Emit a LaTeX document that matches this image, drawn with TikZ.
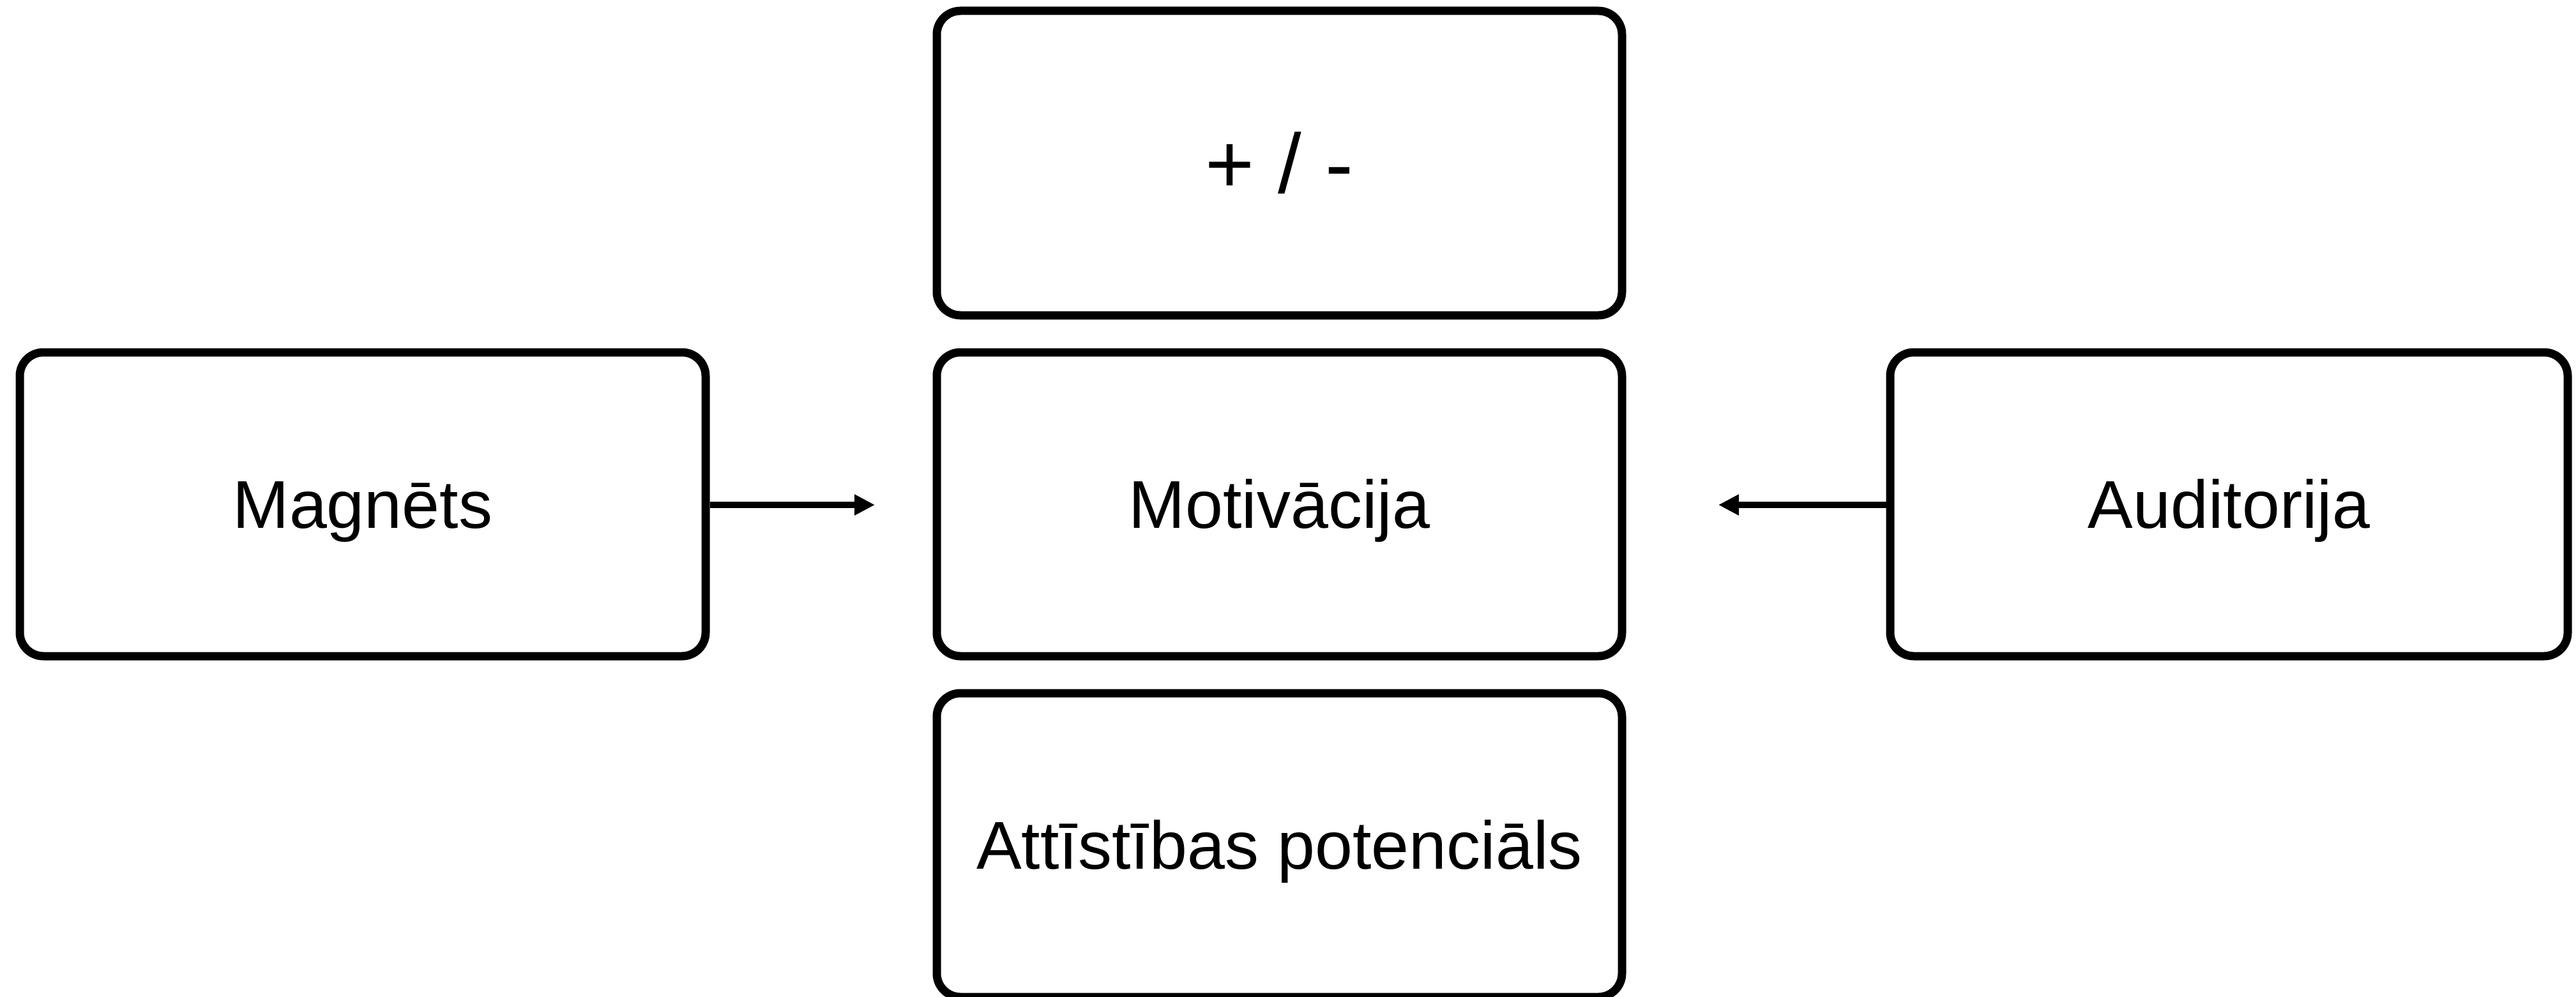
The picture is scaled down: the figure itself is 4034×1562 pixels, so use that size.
\documentclass[tikz,border=0pt]{standalone}
\usepackage{fontspec}
\setmainfont{Liberation Sans}
\usetikzlibrary{arrows.meta}
\begin{document}
\begin{tikzpicture}[x=0.25pt,y=-0.25pt,
  box/.style={draw, line width=3.25pt, rounded corners=9.25pt, inner sep=0pt,
    minimum width=268.25pt, minimum height=119pt,
    text height=18.97pt, text depth=0pt, font=\fontsize{26.5}{31}\selectfont},
  conn/.style={line width=2.5pt, -{Triangle[length=8pt,width=7.75pt]}}]
\useasboundingbox (0,0) rectangle (4034,1562);
\node[box, minimum height=119.25pt, text height=23.6pt, font=\fontsize{33}{38}\selectfont] (pm) at (2003.5,255.5) {+ / -};
\node[box] (mot) at (2003.5,790) {Motivācija};
\node[box] (att) at (2003.5,1324) {Attīstības potenciāls};
\node[box, minimum width=268.5pt] (mag) at (568,790) {Magnēts};
\node[box, minimum width=265.25pt] (aud) at (3490.5,790) {Auditorija};
\coordinate (lt) at (1370,791);
\coordinate (rt) at (2691,791);
\draw[conn] (mag.east |- lt) -- (lt);
\draw[conn] (aud.west |- rt) -- (rt);
\end{tikzpicture}
\end{document}
